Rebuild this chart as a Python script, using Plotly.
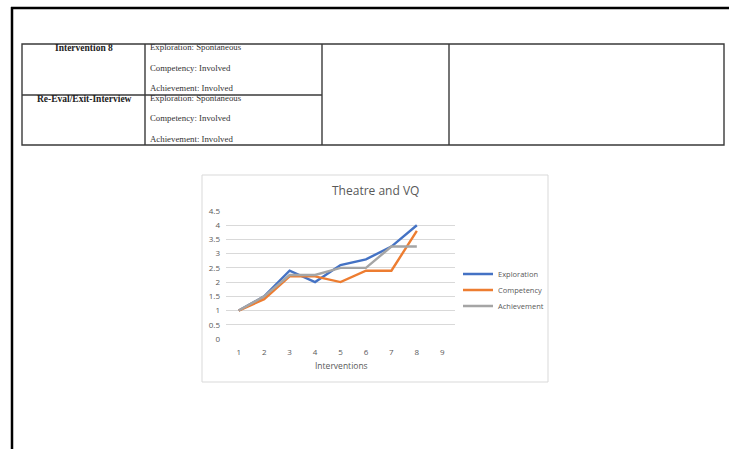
import plotly.graph_objects as go

W, H = 729, 449

# Chart data
interventions = [1, 2, 3, 4, 5, 6, 7, 8]
exploration = [1.0, 1.5, 2.4, 2.0, 2.6, 2.8, 3.25, 4.0]
competency = [1.0, 1.4, 2.2, 2.2, 2.0, 2.4, 2.4, 3.8]
achievement = [1.0, 1.5, 2.25, 2.25, 2.5, 2.5, 3.25, 3.25]
x_ticks = [1, 2, 3, 4, 5, 6, 7, 8, 9]
y_ticks = [0, 0.5, 1, 1.5, 2, 2.5, 3, 3.5, 4, 4.5]

# Table text
row_labels = ["Intervention 8", "Re-Eval/Exit-Interview"]
row_details = [
    ["Exploration: Spontaneous", "Competency: Involved", "Achievement: Involved"],
    ["Exploration: Spontaneous", "Competency: Involved", "Achievement: Involved"],
]


def px(x):
    return x / W


def py(y):
    return 1 - y / H


fig = go.Figure()
series = [
    ("Exploration", exploration, "#4472C4", "legend", 274),
    ("Competency", competency, "#ED7D31", "legend2", 290),
    ("Achievement", achievement, "#A5A5A5", "legend3", 306),
]
legend_font = dict(family="Open Sans", size=7.5, color="#595959")
legends = {}
for name, vals, color, leg, ly in series:
    fig.add_trace(go.Scatter(
        x=interventions, y=vals, name=name, mode="lines", legend=leg,
        line=dict(color=color, width=2.4),
    ))
    legends[leg] = dict(x=px(458), y=py(ly), xanchor="left", yanchor="middle",
                        bgcolor="rgba(0,0,0,0)", itemwidth=30, font=legend_font,
                        borderwidth=0)

shapes = []
# page edges
shapes.append(dict(type="line", xref="paper", yref="paper", x0=px(11), x1=px(729),
                   y0=py(8), y1=py(8), line=dict(color="black", width=2.5)))
shapes.append(dict(type="line", xref="paper", yref="paper", x0=px(12), x1=px(12),
                   y0=py(7), y1=py(449), line=dict(color="black", width=2.5)))
# table frame
tline = dict(color="#3a3a3a", width=1.4)
shapes.append(dict(type="rect", xref="paper", yref="paper", x0=px(22), x1=px(724),
                   y0=py(44), y1=py(145), line=tline))
for cx in (145, 322, 449):
    shapes.append(dict(type="line", xref="paper", yref="paper", x0=px(cx), x1=px(cx),
                       y0=py(44), y1=py(145), line=tline))
shapes.append(dict(type="line", xref="paper", yref="paper", x0=px(22), x1=px(322),
                   y0=py(95), y1=py(95), line=tline))
# chart frame
shapes.append(dict(type="rect", xref="paper", yref="paper", x0=px(202), x1=px(548),
                   y0=py(175), y1=py(382), line=dict(color="#d9d9d9", width=1),
                   fillcolor="white", layer="below"))

annotations = []
serif = "Liberation Serif"
label_y = [48, 99]
for lbl, yy in zip(row_labels, label_y):
    annotations.append(dict(text="<b>%s</b>" % lbl, x=px(84), y=py(yy), xref="paper",
                            yref="paper", showarrow=False, xanchor="center", yanchor="middle",
                            font=dict(family=serif, size=9.5, color="#222222")))
detail_y = [[47, 68, 88], [98, 118, 139]]
for rows, ys in zip(row_details, detail_y):
    for t, yy in zip(rows, ys):
        annotations.append(dict(text=t, x=px(148), y=py(yy), xref="paper", yref="paper",
                                showarrow=False, xanchor="left", yanchor="middle",
                                font=dict(family=serif, size=8.8, color="#333333")))
annotations.append(dict(text="Theatre and VQ", x=px(375), y=py(190), xref="paper",
                        yref="paper", showarrow=False, xanchor="center", yanchor="middle",
                        font=dict(family="Open Sans", size=12, color="#595959")))
annotations.append(dict(text="Interventions", x=px(341), y=py(365), xref="paper",
                        yref="paper", showarrow=False, xanchor="center", yanchor="middle",
                        font=dict(family="Open Sans", size=8.5, color="#595959")))

tick_font = dict(family="Open Sans", size=8, color="#595959")
fig.update_layout(
    width=W, height=H,
    margin=dict(l=0, r=0, t=0, b=0, autoexpand=False),
    paper_bgcolor="white", plot_bgcolor="rgba(0,0,0,0)",
    shapes=shapes, annotations=annotations,
    showlegend=True,
    xaxis=dict(domain=[px(226), px(455)], range=[0.5, 9.5], tickmode="array",
               tickvals=x_ticks, ticktext=[str(v) for v in x_ticks], showgrid=False,
               zeroline=False, showline=False, ticks="", automargin=False,
               ticklabelstandoff=7, tickfont=tick_font),
    yaxis=dict(domain=[py(339), py(211)], range=[0, 4.5], tickmode="array",
               tickvals=y_ticks, ticktext=[("%g" % v) for v in y_ticks],
               showgrid=True, gridcolor="#d9d9d9", gridwidth=0.8, zeroline=False,
               showline=False, ticks="", automargin=False, ticklabelstandoff=5,
               tickfont=tick_font),
    **legends,
)

fig.write_html("out.html")
